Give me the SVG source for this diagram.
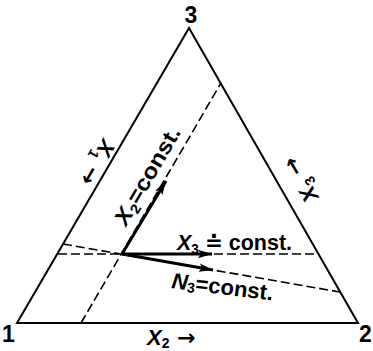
<svg xmlns="http://www.w3.org/2000/svg" width="373" height="351" viewBox="0 0 373 351">
<defs>
<marker id="ah" markerUnits="userSpaceOnUse" markerWidth="16" markerHeight="10" refX="14" refY="5" orient="auto">
<path d="M0,0.8 L14,5 L0,9.2 L3,5 Z" fill="#000"/>
</marker>
<style>
.tri{fill:none;stroke:#000;stroke-width:2;stroke-linejoin:miter}
.dash{fill:none;stroke:#000;stroke-width:1.6;stroke-dasharray:9 4}
.arr{fill:none;stroke:#000;stroke-width:3}
text{font-family:"Liberation Sans","DejaVu Sans",Arial,sans-serif;font-weight:bold;fill:#000}
.num{font-size:23px}
.lab{font-size:22px}
.it{font-style:italic}
.sub{font-size:14px}
.ar{font-family:"DejaVu Sans",sans-serif;font-weight:bold}
</style>
</defs>
<rect width="373" height="351" fill="#fff"/>
<g id="triangle">
<path class="tri" d="M17,323 L358,323 L189,28 Z"/>
</g>
<g id="vertex-1"><text class="num" x="2" y="342">1</text></g>
<g id="vertex-2"><text class="num" x="359" y="342">2</text></g>
<g id="vertex-3"><text class="num" x="191" y="23" text-anchor="middle">3</text></g>
<g id="connectors">
<line class="dash" x1="81" y1="323" x2="221" y2="83"/>
<line class="dash" x1="58" y1="254" x2="318" y2="254"/>
<line class="dash" x1="63" y1="244" x2="340" y2="292"/>
<line class="arr" x1="122" y1="254" x2="166" y2="181" marker-end="url(#ah)"/>
<line class="arr" x1="122" y1="254" x2="212" y2="254" marker-end="url(#ah)"/>
<line class="arr" x1="122" y1="254" x2="213" y2="270" marker-end="url(#ah)"/>
</g>
<g id="label-x2-const">
<text class="lab" transform="translate(126,227) rotate(-59.7)" textLength="110" lengthAdjust="spacingAndGlyphs"><tspan class="it">X</tspan><tspan class="sub" dy="4">2</tspan><tspan dy="-4">=const.</tspan></text>
</g>
<g id="label-x3-const">
<text class="lab" x="177" y="250" textLength="115" lengthAdjust="spacingAndGlyphs"><tspan class="it">X</tspan><tspan class="sub" dy="4">3</tspan><tspan dy="-4"> ≐ const.</tspan></text>
</g>
<g id="label-n3-const">
<text class="lab" transform="translate(171,288) rotate(7)" textLength="102" lengthAdjust="spacingAndGlyphs"><tspan class="it">N</tspan><tspan class="sub" dy="2">3</tspan><tspan dy="-2">=const.</tspan></text>
</g>
<g id="label-x1">
<text class="lab" transform="translate(103,138) rotate(120)"><tspan class="it">X</tspan><tspan class="sub" dy="5">1</tspan><tspan class="ar" dy="-5"> →</tspan></text>
</g>
<g id="label-x3-side">
<text class="lab" transform="translate(319,197) rotate(-120)"><tspan class="it">X</tspan><tspan class="sub" dy="5">3</tspan><tspan class="ar" dy="-5"> →</tspan></text>
</g>
<g id="label-x2-base">
<text class="lab" x="147" y="345"><tspan class="it">X</tspan><tspan class="sub" dy="3">2</tspan><tspan class="ar" dy="-3"> →</tspan></text>
</g>
</svg>
